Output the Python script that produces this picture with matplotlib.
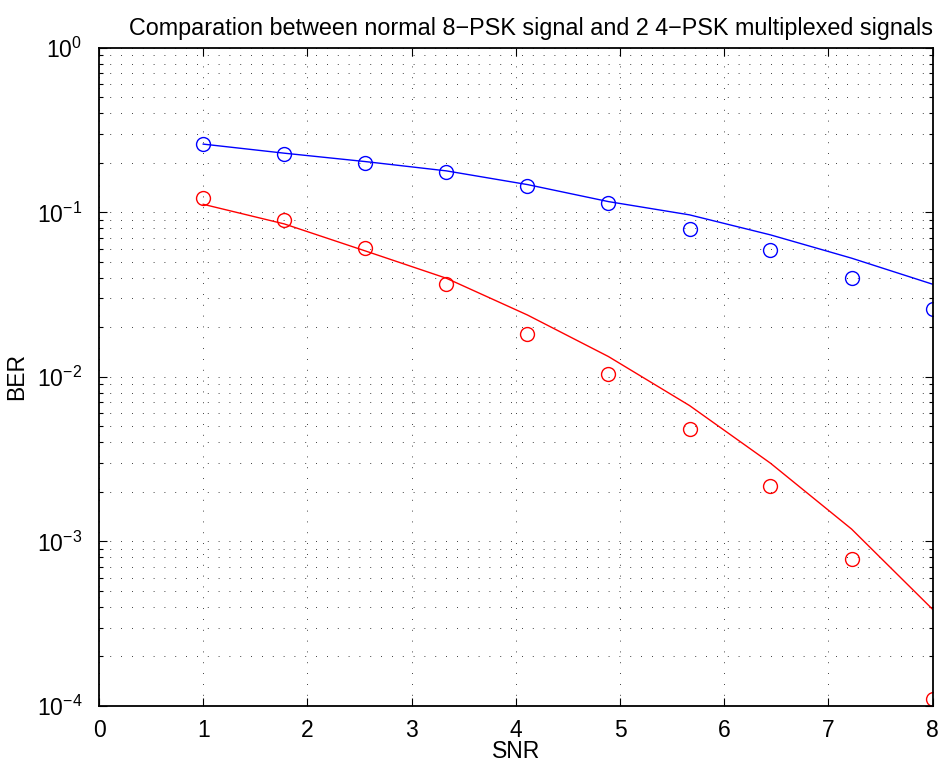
import numpy as np
import matplotlib
matplotlib.use("Agg")
import matplotlib.pyplot as plt
from matplotlib.ticker import LogLocator, NullFormatter

plt.rcParams['font.family'] = ['Liberation Sans', 'DejaVu Sans']
plt.rcParams['mathtext.fontset'] = 'custom'
plt.rcParams['mathtext.rm'] = 'Liberation Sans'
plt.rcParams['mathtext.it'] = 'Liberation Sans'

# SNR points (10 samples from 1 to 8)
snr = [1.0, 1.778, 2.556, 3.333, 4.111, 4.889, 5.667, 6.444, 7.222, 8.0]

# 8-PSK: simulated (circles) and theoretical (line)
ber_8psk_sim = [0.260, 0.226, 0.201, 0.176, 0.145, 0.114, 0.0797, 0.0589, 0.0400, 0.0259]
ber_8psk_theory = [0.260, 0.229, 0.2036, 0.1788, 0.1476, 0.1163, 0.0966, 0.0730, 0.0527, 0.0366]

# two multiplexed 4-PSK: simulated (circles) and theoretical (line)
ber_4psk_sim = [0.123, 0.090, 0.0606, 0.0369, 0.0183, 0.01047, 0.00481, 0.00218, 0.000782, 0.000111]
ber_4psk_theory = [0.112, 0.0851, 0.0583, 0.0398, 0.0238, 0.0133, 0.0067, 0.00299, 0.00119, 0.000387]

fig = plt.figure(figsize=(9.43, 7.68), dpi=100)
ax = fig.add_axes([0.105, 0.0807, 0.884, 0.857])

ax.semilogy(snr, ber_8psk_theory, color='blue', lw=1.0)
ax.semilogy(snr, ber_8psk_sim, 'o', mfc='none', mec='blue', ms=10, mew=1.0)
ax.semilogy(snr, ber_4psk_theory, color='red', lw=1.0)
ax.semilogy(snr, ber_4psk_sim, 'o', mfc='none', mec='red', ms=10, mew=1.0)

ax.set_xlim(0, 8)
ax.set_ylim(1e-4, 1)
ax.set_xticks(range(0, 9))
ax.yaxis.set_major_locator(LogLocator(base=10, numticks=10))
ax.yaxis.set_minor_locator(LogLocator(base=10, subs=np.arange(2, 10), numticks=20))
ax.yaxis.set_minor_formatter(NullFormatter())

ax.grid(True, which='major', axis='both', color='black', lw=0.6, linestyle=(0, (1, 12)))
ax.grid(True, which='minor', axis='y', color='black', lw=0.6, linestyle=(0, (1, 12)))

ax.tick_params(which='both', direction='in', top=True, right=True, labelsize=16.5)
ax.tick_params(which='major', length=6, width=0.8)
ax.tick_params(axis='x', which='major', pad=9)
ax.tick_params(axis='y', which='major', pad=12)
ax.tick_params(which='minor', length=3, width=0.8)
for s in ax.spines.values():
    s.set_linewidth(1.3)

ax.set_xlabel('SNR', fontsize=16.5, labelpad=-1)
ax.set_ylabel('BER', fontsize=16.5, labelpad=6)
ax.set_title('Comparation between normal 8\u2212PSK signal and 2 4\u2212PSK multiplexed signals',
             fontsize=16.8, pad=9, x=0.518)

fig.savefig('out.png', dpi=100)
